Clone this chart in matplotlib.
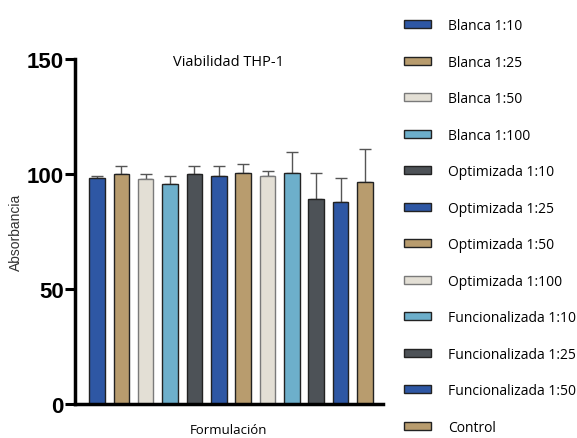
import matplotlib.pyplot as plt
import numpy as np

labels = ['Blanca 1:10', 'Blanca 1:25', 'Blanca 1:50', 'Blanca 1:100',
          'Optimizada 1:10', 'Optimizada 1:25', 'Optimizada 1:50', 'Optimizada 1:100',
          'Funcionalizada 1:10', 'Funcionalizada 1:25', 'Funcionalizada 1:50', 'Control']
means = [98.3, 100.0, 97.8, 95.9, 100.1, 99.4, 100.6, 99.1, 100.6, 89.2, 88.0, 96.7]
errs = [1.1, 3.5, 2.3, 3.2, 3.4, 4.1, 4.0, 2.2, 8.9, 11.2, 10.5, 14.4]

palette = ['#2E57A4', '#B89C6E', '#E3DFD5', '#6DAFCB', '#4D5257']
colors = [palette[i % 5] for i in range(len(labels))]
edges = ['#222222' if c != '#E3DFD5' else '#7a7a7a' for c in colors]

fig = plt.figure(figsize=(5.77, 4.39), dpi=100)
ax = fig.add_axes([0.13, 0.077, 0.533, 0.786])

x = np.arange(len(labels))
for i in range(len(labels)):
    ax.bar(x[i], means[i], width=0.64, color=colors[i], edgecolor=edges[i],
           linewidth=1.0, label=labels[i], zorder=2)
    ax.errorbar(x[i], means[i], yerr=[[0], [errs[i]]], fmt='none',
                ecolor='#555555', elinewidth=1.0, capsize=4, capthick=1.0, zorder=1)

ax.set_ylim(0, 150)
ax.set_xlim(-0.9, 11.72)
ax.set_yticks([0, 50, 100, 150])
ax.set_xticks([])
for lab in ax.get_yticklabels():
    lab.set_fontfamily('Liberation Sans')
    lab.set_fontweight('bold')
    lab.set_fontsize(16)
ax.tick_params(axis='y', width=2.2, length=7, pad=1)
ax.spines['left'].set_linewidth(2.5)
ax.spines['bottom'].set_linewidth(2.5)
ax.spines['top'].set_visible(False)
ax.spines['right'].set_visible(False)

ax.set_title('Viabilidad THP-1', fontsize=10.5, family='Open Sans', pad=-4, y=1.0)
ax.set_ylabel('Absorbancia', fontsize=10, family='Liberation Sans', color='#333333')
ax.yaxis.set_label_coords(-0.17, 0.5)
ax.set_xlabel('Formulación', fontsize=9.5, family='Open Sans')
ax.xaxis.set_label_coords(0.5, -0.055)

fig.legend(loc='upper left', bbox_to_anchor=(0.678, 0.985), frameon=False,
           prop={'family': 'Open Sans', 'size': 10}, handlelength=2.0,
           handleheight=0.5, labelspacing=1.55, handletextpad=1.2)

plt.savefig('out.png', dpi=100)
